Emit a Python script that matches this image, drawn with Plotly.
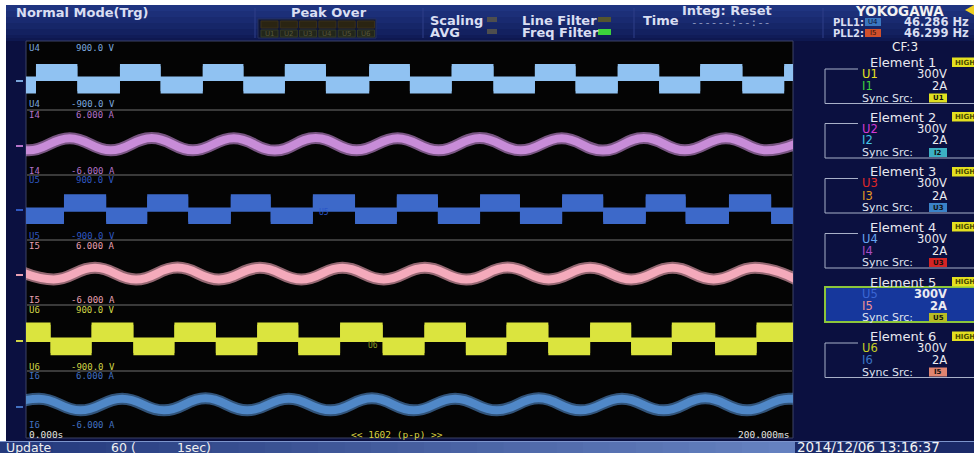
import plotly.graph_objects as go

W, H = 974, 453

T_RANGE_MS = [0, 200]
U_FULL_V = 900.0
I_FULL_A = 6.0

# square-wave voltages: switching instants (ms), state at t=0, level bands (V)
U4_edges_ms = [2.6, 13.4, 24.5, 35.1, 46.1, 56.7, 67.5, 78.2, 89.5, 100.1, 111.0,
               121.9, 132.7, 143.3, 154.3, 165.1, 175.8, 186.8, 197.7]
U4_starts_high = False
U4_high_band_v = [-47, 293]
U4_low_band_v = [-392, -47]

U5_edges_ms = [9.9, 20.9, 31.6, 42.3, 53.4, 63.8, 74.8, 85.8, 96.7, 107.4, 118.4,
               128.8, 139.8, 150.5, 161.6, 172.0, 183.3, 194.3]
U5_starts_high = False
U5_high_band_v = [-60, 305]
U5_low_band_v = [-397, -60]

U6_edges_ms = [6.4, 17.1, 28.0, 38.7, 49.5, 60.3, 71.0, 81.9, 93.0, 103.9, 114.7,
               125.3, 136.2, 147.1, 157.8, 168.4, 179.7, 190.5]
U6_starts_high = True
U6_high_band_v = [-46, 360]
U6_low_band_v = [-409, -46]

# currents: crest / trough instants (ms) and values (A)
I4_t_ms = [-10.0, 0.7, 11.4, 22.1, 32.8, 43.5, 54.2, 64.9, 75.5, 86.2, 96.9,
           107.6, 118.3, 129.0, 139.7, 150.4, 161.1, 171.8, 182.5, 193.1, 203.8]
I4_a = [0.8, -1.45, 0.8, -1.45, 0.85, -1.45, 0.8, -1.5, 0.85, -1.45, 0.8,
        -1.45, 0.85, -1.45, 0.8, -1.5, 0.85, -1.45, 0.8, -1.45, 0.8]

I5_t_ms = [-3.5, 7.2, 18.0, 28.7, 39.5, 50.3, 61.0, 71.8, 82.5, 93.3,
           104.0, 114.8, 125.6, 136.3, 147.1, 157.8, 168.6, 179.3, 190.1, 200.8]
I5_a = [0.86, -1.28, 0.86, -1.3, 0.9, -1.28, 0.86, -1.3, 0.86, -1.28,
        0.86, -1.3, 0.9, -1.28, 0.86, -1.3, 0.86, -1.28, 0.86, -1.28]

I6_t_ms = [-7.5, 3.4, 14.2, 25.1, 36.0, 46.8, 57.7, 68.5, 79.4, 90.2, 101.1,
           111.9, 122.8, 133.7, 144.6, 155.4, 166.3, 177.1, 188.0, 198.9, 209.7]
I6_a = [-1.05, 1.05, -1.05, 1.05, -1.05, 1.1, -1.05, 1.05, -1.05, 1.1, -1.05,
        1.05, -1.05, 1.1, -1.05, 1.05, -1.05, 1.1, -1.05, 1.05, -1.05]

scale_labels = {"U": ["900.0 V", "-900.0 V"], "I": ["6.000 A", "-6.000 A"]}
time_labels = ["0.000s", "<< 1602 (p-p) >>", "200.000ms"]

elements = ["Element 1", "Element 2", "Element 3", "Element 4", "Element 5", "Element 6"]
el_u = ["U1", "U2", "U3", "U4", "U5", "U6"]
el_i = ["I1", "I2", "I3", "I4", "I5", "I6"]
el_range_u = ["300V"] * 6
el_range_i = ["2A"] * 6
el_sync = ["U1", "I2", "U3", "U3", "U5", "I5"]

# ---------------- styling ----------------
NAVY = "#0b1040"
C = {"U4": "#90c2f2", "I4": "#c88cd8", "U5": "#3d69c9", "I5": "#f4aabb",
     "U6": "#dbe43e", "I6": "#5088c8"}
LBL = {"U4": "#7aa6dc", "I4": "#b473c8", "U5": "#2f57c0", "I5": "#e8a0b2",
       "U6": "#cfd446", "I6": "#4270c0"}
el_u_col = ["#e6e020", "#d43ad4", "#e02828", "#66a6f0", "#3b66d4", "#c8d024"]
el_i_col = ["#3ed23e", "#44c4e4", "#e49a24", "#a84cc4", "#f09494", "#3a74c4"]
el_sync_col = ["#e0e020", "#3cb0c4", "#3a82c8", "#d42424", "#b8bc24", "#e08470"]

band_px = [44, 110, 175, 240, 305, 371, 438]   # channel strip edges on screen
PX0, PX1 = 26, 793


def X(px):
    return px / W


def Y(py):
    return 1 - py / H


shapes, annos = [], []


def rect(x0, y0, x1, y1, fill, line=None, lw=0, layer="below"):
    shapes.append(dict(type="rect", xref="paper", yref="paper", x0=X(x0), x1=X(x1),
                       y0=Y(y1), y1=Y(y0), fillcolor=fill, layer=layer,
                       line=dict(color=line or fill, width=lw)))


def hline(x0, x1, y, color, w=1, layer="above"):
    shapes.append(dict(type="line", xref="paper", yref="paper", x0=X(x0), x1=X(x1),
                       y0=Y(y), y1=Y(y), layer=layer, line=dict(color=color, width=w)))


def vline(x, y0, y1, color, w=1, layer="above"):
    shapes.append(dict(type="line", xref="paper", yref="paper", x0=X(x), x1=X(x),
                       y0=Y(y0), y1=Y(y1), layer=layer, line=dict(color=color, width=w)))


def text(x, y, s, color, size=12, anchor="left", bold=False, family="DejaVu Sans"):
    annos.append(dict(x=X(x), y=Y(y), xref="paper", yref="paper", text=s,
                      showarrow=False, xanchor=anchor, yanchor="middle", borderpad=0,
                      font=dict(family=family, size=size, color=color,
                                weight="bold" if bold else "normal")))


def mix(c1, c2, f):
    a = [int(c1[i:i + 2], 16) for i in (1, 3, 5)]
    b = [int(c2[i:i + 2], 16) for i in (1, 3, 5)]
    return "#" + "".join(f"{round(a[k] + (b[k] - a[k]) * f):02x}" for k in range(3))


fig = go.Figure()

# ---------------- axes: one x, six stacked y strips ----------------
chan = ["U4", "I4", "U5", "I5", "U6", "I6"]
layout_axes = {}
for k, name in enumerate(chan):
    full = U_FULL_V if name[0] == "U" else I_FULL_A
    key = "yaxis" if k == 0 else f"yaxis{k + 1}"
    layout_axes[key] = dict(domain=[Y(band_px[k + 1]), Y(band_px[k])], range=[-full, full],
                            visible=False, fixedrange=True, anchor="x")


def yref(k):
    return "y" if k == 0 else f"y{k + 1}"


def square(edges, starts_high, hi, lo):
    xs, up, dn = [T_RANGE_MS[0]], [], []
    state = starts_high
    up.append(hi[1] if state else lo[1]); dn.append(hi[0] if state else lo[0])
    for e in edges:
        state = not state
        xs.append(e)
        up.append(hi[1] if state else lo[1]); dn.append(hi[0] if state else lo[0])
    xs.append(T_RANGE_MS[1]); up.append(up[-1]); dn.append(dn[-1])
    return xs, up, dn


def add_square(k, edges, starts_high, hi, lo, color):
    xs, up, dn = square(edges, starts_high, hi, lo)
    fr = 60
    for (a, b, op) in [([v - fr for v in dn], [v + fr for v in up], 0.5), (dn, up, 1.0)]:
        fig.add_trace(go.Scatter(x=xs, y=a, mode="lines", line=dict(width=0, shape="hv"),
                                 xaxis="x", yaxis=yref(k), hoverinfo="skip", showlegend=False))
        fig.add_trace(go.Scatter(x=xs, y=b, mode="lines", line=dict(width=0, shape="hv"),
                                 fill="tonexty", fillcolor=color, opacity=op,
                                 xaxis="x", yaxis=yref(k), hoverinfo="skip", showlegend=False))


def add_sine(k, t, a, color):
    for w, op in [(12, 0.6), (8, 1.0)]:
        fig.add_trace(go.Scatter(x=t, y=a, mode="lines", opacity=op,
                                 line=dict(color=color, width=w, shape="spline", smoothing=1.3),
                                 xaxis="x", yaxis=yref(k), hoverinfo="skip", showlegend=False))


add_square(0, U4_edges_ms, U4_starts_high, U4_high_band_v, U4_low_band_v, C["U4"])
add_sine(1, I4_t_ms, I4_a, C["I4"])
add_square(2, U5_edges_ms, U5_starts_high, U5_high_band_v, U5_low_band_v, C["U5"])
add_sine(3, I5_t_ms, I5_a, C["I5"])
add_square(4, U6_edges_ms, U6_starts_high, U6_high_band_v, U6_low_band_v, C["U6"])
add_sine(5, I6_t_ms, I6_a, C["I6"])

# ---------------- screen furniture ----------------
rect(0, 0, W, H, "#ffffff")
rect(6, 5, W, 441, NAVY)
for j in range(6):
    rect(6, 5 + j * 6, W, 5 + (j + 1) * 6, mix("#1f3480", "#101c58", j / 5))
rect(6, 38, W, 41, "#0e1850")
rect(PX0, band_px[0] - 3, PX1, band_px[-1], "#040404", line="#3c4266", lw=1)
for yb in band_px[1:-1]:
    hline(PX0 + 1, PX1 - 1, yb, "#3a3a3a", 2, layer="below")

for k, yy in enumerate([81, 146, 210, 275, 341, 407]):
    hline(16, 23, yy, LBL[chan[k]], 2)

lab_rows = [(48, 104.5), (114.5, 170.5), (180, 235.5), (245.5, 299.5), (310, 366.5), (375.5, 425)]
for k, name in enumerate(chan):
    top, bot = lab_rows[k]
    labs = scale_labels[name[0]]
    for yy, s in [(top, labs[0]), (bot, labs[1])]:
        text(28, yy, name, LBL[name], 9, family="DejaVu Sans Mono")
        text(116, yy, s, LBL[name], 9, anchor="right", family="DejaVu Sans Mono")
text(318, 213, "U5", "#2a55c8", 8, family="DejaVu Sans Mono")
text(367, 345, "U6", "#8a9a20", 8, family="DejaVu Sans Mono")

text(28, 434, time_labels[0], "#e4e4e4", 9.5, family="DejaVu Sans Mono")
text(350, 434, time_labels[1], "#d8d040", 9.5, family="DejaVu Sans Mono")
text(790, 434, time_labels[2], "#e4e4e4", 9.5, anchor="right", family="DejaVu Sans Mono")

# bottom status bar
n = 30
for j in range(n):
    x0 = j * 795 / n
    rect(x0, 441, x0 + 795 / n + 0.6, H, mix("#24397c", "#6581c0", j / (n - 1)))
rect(795, 441, W, H, "#1b2a68")
hline(0, W, 441.5, "#7d95cc", 1)
text(5, 447, "Update", "#f0f0f0", 12.5)
text(110, 447, "60 (", "#f0f0f0", 12.5)
text(176, 447, "1sec)", "#f0f0f0", 12.5)
text(796, 447, "2014/12/06 13:16:37", "#f4f4f4", 13.5)

# header
HT = "#d9def2"
text(15, 12, "Normal Mode(Trg)", HT, 13, bold=True)
text(329, 12, "Peak Over", HT, 13, anchor="center", bold=True)
rect(258, 19, 376, 38, "#0f1636", line="#26305c", lw=1)
for j in range(6):
    cx = 261 + j * 19.3
    rect(cx, 21, cx + 17, 28, "#2a2412", line="#3a3018", lw=1)
    rect(cx, 30, cx + 17, 37, "#22261a", line="#353a24", lw=1)
    text(cx + 8.5, 33.5, el_u[j], "#57583a", 7, anchor="center")
for xx in [255, 423, 634, 823]:
    vline(xx, 8, 38, "#2e3f88", 1)
text(429, 20, "Scaling", HT, 13, bold=True)
text(429, 32, "AVG", HT, 13, bold=True)
rect(487, 17, 497, 22, "#4e4e4e")
rect(487, 29, 497, 34, "#4e4e4e")
text(521, 20, "Line Filter", HT, 13, bold=True)
text(521, 32, "Freq Filter", HT, 13, bold=True)
rect(598, 17, 611, 22, "#55552e")
rect(598, 29, 611, 35, "#3cd23c")
text(642, 20, "Time", HT, 13, bold=True)
text(681, 10, "Integ: Reset", HT, 13, bold=True)
text(690, 22, "------:--:--", "#8c98c0", 11, family="DejaVu Sans Mono")
text(854, 10.5, "YOKOGAWA", "#f2f2f2", 13.5, bold=True)
shapes.append(dict(type="path", xref="paper", yref="paper",
                   path=f"M {X(974)},{Y(5)} L {X(965)},{Y(10)} L {X(974)},{Y(15)} Z",
                   fillcolor="#f0d020", line=dict(width=0)))
text(832, 22, "PLL1:", HT, 10, bold=True)
text(832, 33, "PLL2:", HT, 10, bold=True)
rect(865, 18, 881, 26, "#3a78c0")
rect(865, 29, 881, 37, "#d0502c")
text(873, 22, "U4", "#0a0a30", 7, anchor="center")
text(873, 33, "I5", "#301008", 7, anchor="center")
text(903, 22, "46.286 Hz", HT, 11.5, bold=True)
text(903, 33, "46.299 Hz", HT, 11.5, bold=True)

# right panel
text(905, 47, "CF:3", "#eeeeee", 12, anchor="center")
el_top = [62.5, 117, 172, 227, 282, 336.5]
for k in range(6):
    t0 = el_top[k]
    if k == 4:
        rect(825, t0 + 5, 980, t0 + 40, "#16379c", line="#8cc63a", lw=2)
    else:
        hline(825, 858, t0 + 6.5, "#a8b0c8", 1)
        vline(825, t0 + 6.5, t0 + 41, "#a8b0c8", 1)
        hline(825, W, t0 + 41, "#a8b0c8", 1)
    text(869, t0, elements[k], "#e8e8f0", 13)
    rect(952, t0 - 5, 978, t0 + 4.5, "#e4e020")
    text(954, t0, "HIGH", "#4a4a00", 7, bold=True)
    text(861, t0 + 11.5, el_u[k], el_u_col[k], 11.5)
    text(948, t0 + 11.5, el_range_u[k], "#ececf2", 11.5, anchor="right", bold=(k == 4))
    text(861, t0 + 23.5, el_i[k], el_i_col[k], 11.5)
    text(948, t0 + 23.5, el_range_i[k], "#ececf2", 11.5, anchor="right", bold=(k == 4))
    text(861, t0 + 35.5, "Sync Src:", "#dfe2ee", 11)
    rect(929, t0 + 31, 947, t0 + 40, el_sync_col[k])
    text(938, t0 + 35.5, el_sync[k], "#101010", 7, anchor="center", bold=True)

fig.update_layout(
    width=W, height=H, autosize=False,
    margin=dict(l=0, r=0, t=0, b=0),
    paper_bgcolor=NAVY, plot_bgcolor="rgba(0,0,0,0)",
    showlegend=False,
    xaxis=dict(domain=[X(PX0), X(PX1)], range=T_RANGE_MS, autorange=False,
               visible=False, fixedrange=True),
    shapes=shapes, annotations=annos,
    **layout_axes,
)

fig.write_html("out.html", config={"displayModeBar": False},
               post_script="document.body.style.margin='0';document.body.style.overflow='hidden';")
